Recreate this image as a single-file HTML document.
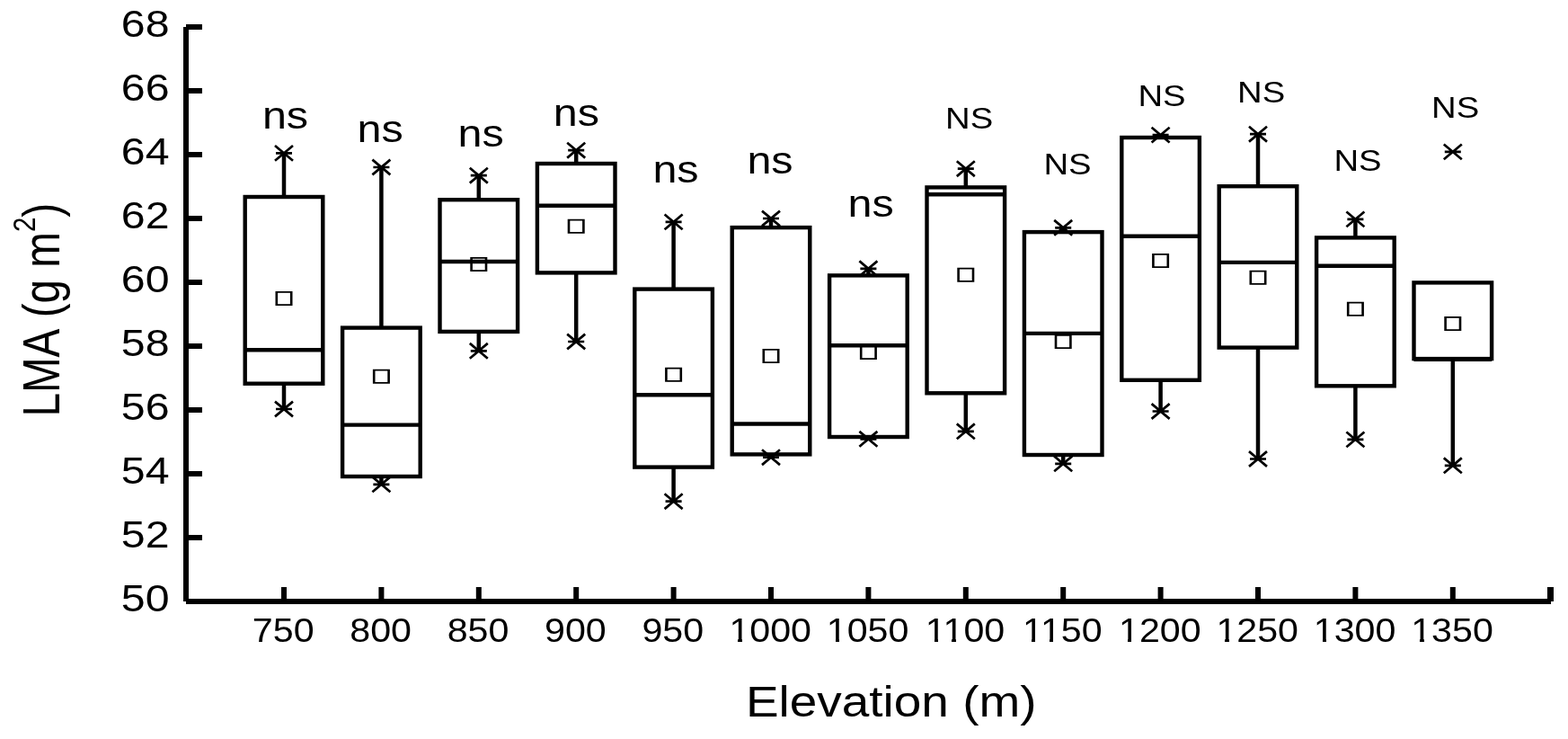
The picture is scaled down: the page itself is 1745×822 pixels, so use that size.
<!DOCTYPE html>
<html><head><meta charset="utf-8"><title>LMA vs Elevation</title>
<style>html,body{margin:0;padding:0;background:#fff;overflow:hidden}svg{display:block}</style>
</head><body>
<svg width="1745" height="822" viewBox="0 0 1745 822">
<rect x="0" y="0" width="1745" height="822" fill="#fff"/>
<g fill="#000">
<rect x="204" y="30" width="6" height="639"/>
<rect x="207" y="666" width="18" height="6"/>
<rect x="207" y="595" width="18" height="6"/>
<rect x="207" y="524" width="18" height="6"/>
<rect x="207" y="453" width="18" height="6"/>
<rect x="207" y="382" width="18" height="6"/>
<rect x="207" y="311" width="18" height="6"/>
<rect x="207" y="240" width="18" height="6"/>
<rect x="207" y="169" width="18" height="6"/>
<rect x="207" y="98" width="18" height="6"/>
<rect x="207" y="27" width="18" height="6"/>
<rect x="207" y="666" width="1519" height="6"/>
<rect x="1722" y="653" width="7" height="16"/>
<rect x="313.0" y="653" width="6" height="13"/>
<rect x="421.4" y="653" width="6" height="13"/>
<rect x="529.8" y="653" width="6" height="13"/>
<rect x="638.2" y="653" width="6" height="13"/>
<rect x="746.6" y="653" width="6" height="13"/>
<rect x="855.0" y="653" width="6" height="13"/>
<rect x="963.4" y="653" width="6" height="13"/>
<rect x="1071.8" y="653" width="6" height="13"/>
<rect x="1180.2" y="653" width="6" height="13"/>
<rect x="1288.6" y="653" width="6" height="13"/>
<rect x="1397.0" y="653" width="6" height="13"/>
<rect x="1505.4" y="653" width="6" height="13"/>
<rect x="1613.8" y="653" width="6" height="13"/>
</g>
<g fill="none" stroke="#000" stroke-width="4.4">
<rect x="272.7" y="219.0" width="86.6" height="207.7"/>
<line x1="272.7" y1="389.2" x2="359.3" y2="389.2"/>
<rect x="381.1" y="364.6" width="86.6" height="165.4"/>
<line x1="381.1" y1="472.6" x2="467.7" y2="472.6"/>
<rect x="489.5" y="222.2" width="86.6" height="146.7"/>
<line x1="489.5" y1="291.0" x2="576.1" y2="291.0"/>
<rect x="597.9" y="182.0" width="86.6" height="121.4"/>
<line x1="597.9" y1="228.8" x2="684.5" y2="228.8"/>
<rect x="706.3" y="321.6" width="86.6" height="198.0"/>
<line x1="706.3" y1="439.2" x2="792.9" y2="439.2"/>
<rect x="814.7" y="253.1" width="86.6" height="252.3"/>
<line x1="814.7" y1="471.5" x2="901.3" y2="471.5"/>
<rect x="923.1" y="306.4" width="86.6" height="179.6"/>
<line x1="923.1" y1="384.3" x2="1009.7" y2="384.3"/>
<rect x="1031.5" y="208.4" width="86.6" height="228.9"/>
<line x1="1031.5" y1="216.3" x2="1118.1" y2="216.3"/>
<rect x="1139.9" y="258.1" width="86.6" height="247.9"/>
<line x1="1139.9" y1="370.9" x2="1226.5" y2="370.9"/>
<rect x="1248.3" y="153.0" width="86.6" height="269.8"/>
<line x1="1248.3" y1="262.8" x2="1334.9" y2="262.8"/>
<rect x="1356.7" y="207.2" width="86.6" height="179.4"/>
<line x1="1356.7" y1="291.9" x2="1443.3" y2="291.9"/>
<rect x="1465.1" y="264.4" width="86.6" height="164.9"/>
<line x1="1465.1" y1="295.7" x2="1551.7" y2="295.7"/>
<rect x="1573.5" y="314.4" width="86.6" height="84.7"/>
<line x1="1573.5" y1="399.7" x2="1660.1" y2="399.7"/>
</g>
<g fill="none" stroke="#000" stroke-width="4.5">
<line x1="316.0" y1="170.4" x2="316.0" y2="219.0"/>
<line x1="316.0" y1="426.7" x2="316.0" y2="455.0"/>
<line x1="424.4" y1="186.0" x2="424.4" y2="364.6"/>
<line x1="424.4" y1="530.0" x2="424.4" y2="538.8"/>
<line x1="532.8" y1="195.2" x2="532.8" y2="222.2"/>
<line x1="532.8" y1="368.9" x2="532.8" y2="390.3"/>
<line x1="641.2" y1="167.2" x2="641.2" y2="182.0"/>
<line x1="641.2" y1="303.4" x2="641.2" y2="380.0"/>
<line x1="749.6" y1="246.9" x2="749.6" y2="321.6"/>
<line x1="749.6" y1="519.6" x2="749.6" y2="557.7"/>
<line x1="858.0" y1="243.0" x2="858.0" y2="253.1"/>
<line x1="858.0" y1="505.4" x2="858.0" y2="508.7"/>
<line x1="966.4" y1="298.8" x2="966.4" y2="306.4"/>
<line x1="966.4" y1="486.0" x2="966.4" y2="488.3"/>
<line x1="1074.8" y1="187.7" x2="1074.8" y2="208.4"/>
<line x1="1074.8" y1="437.3" x2="1074.8" y2="479.8"/>
<line x1="1183.2" y1="253.3" x2="1183.2" y2="258.1"/>
<line x1="1183.2" y1="506.0" x2="1183.2" y2="515.8"/>
<line x1="1291.6" y1="150.1" x2="1291.6" y2="153.0"/>
<line x1="1291.6" y1="422.8" x2="1291.6" y2="457.5"/>
<line x1="1400.0" y1="149.2" x2="1400.0" y2="207.2"/>
<line x1="1400.0" y1="386.6" x2="1400.0" y2="510.5"/>
<line x1="1508.4" y1="243.9" x2="1508.4" y2="264.4"/>
<line x1="1508.4" y1="429.3" x2="1508.4" y2="488.9"/>
<line x1="1616.8" y1="399.1" x2="1616.8" y2="517.8"/>
</g>
<g fill="none" stroke="#000" stroke-width="2.7">
<path d="M306.0 162.0L326.0 178.8M306.0 178.8L326.0 162.0M307.0 170.4L325.0 170.4"/>
<path d="M306.0 446.6L326.0 463.4M306.0 463.4L326.0 446.6M307.0 455.0L325.0 455.0"/>
<path d="M414.4 177.6L434.4 194.4M414.4 194.4L434.4 177.6M415.4 186.0L433.4 186.0"/>
<path d="M414.4 530.4L434.4 547.2M414.4 547.2L434.4 530.4M415.4 538.8L433.4 538.8"/>
<path d="M522.8 186.8L542.8 203.6M522.8 203.6L542.8 186.8M523.8 195.2L541.8 195.2"/>
<path d="M522.8 381.9L542.8 398.7M522.8 398.7L542.8 381.9M523.8 390.3L541.8 390.3"/>
<path d="M631.2 158.8L651.2 175.6M631.2 175.6L651.2 158.8M632.2 167.2L650.2 167.2"/>
<path d="M631.2 371.6L651.2 388.4M631.2 388.4L651.2 371.6M632.2 380.0L650.2 380.0"/>
<path d="M739.6 238.5L759.6 255.3M739.6 255.3L759.6 238.5M740.6 246.9L758.6 246.9"/>
<path d="M739.6 549.3L759.6 566.1M739.6 566.1L759.6 549.3M740.6 557.7L758.6 557.7"/>
<path d="M848.0 234.6L868.0 251.4M848.0 251.4L868.0 234.6M849.0 243.0L867.0 243.0"/>
<path d="M848.0 500.3L868.0 517.1M848.0 517.1L868.0 500.3M849.0 508.7L867.0 508.7"/>
<path d="M956.4 290.4L976.4 307.2M956.4 307.2L976.4 290.4M957.4 298.8L975.4 298.8"/>
<path d="M956.4 479.9L976.4 496.7M956.4 496.7L976.4 479.9M957.4 488.3L975.4 488.3"/>
<path d="M1064.8 179.3L1084.8 196.1M1064.8 196.1L1084.8 179.3M1065.8 187.7L1083.8 187.7"/>
<path d="M1064.8 471.4L1084.8 488.2M1064.8 488.2L1084.8 471.4M1065.8 479.8L1083.8 479.8"/>
<path d="M1173.2 244.9L1193.2 261.7M1173.2 261.7L1193.2 244.9M1174.2 253.3L1192.2 253.3"/>
<path d="M1173.2 507.4L1193.2 524.2M1173.2 524.2L1193.2 507.4M1174.2 515.8L1192.2 515.8"/>
<path d="M1281.6 141.7L1301.6 158.5M1281.6 158.5L1301.6 141.7M1282.6 150.1L1300.6 150.1"/>
<path d="M1281.6 449.1L1301.6 465.9M1281.6 465.9L1301.6 449.1M1282.6 457.5L1300.6 457.5"/>
<path d="M1390.0 140.8L1410.0 157.6M1390.0 157.6L1410.0 140.8M1391.0 149.2L1409.0 149.2"/>
<path d="M1390.0 502.1L1410.0 518.9M1390.0 518.9L1410.0 502.1M1391.0 510.5L1409.0 510.5"/>
<path d="M1498.4 235.5L1518.4 252.3M1498.4 252.3L1518.4 235.5M1499.4 243.9L1517.4 243.9"/>
<path d="M1498.4 480.5L1518.4 497.3M1498.4 497.3L1518.4 480.5M1499.4 488.9L1517.4 488.9"/>
<path d="M1606.8 509.4L1626.8 526.2M1606.8 526.2L1626.8 509.4M1607.8 517.8L1625.8 517.8"/>
<path d="M1606.8 160.5L1626.8 177.3M1606.8 177.3L1626.8 160.5M1607.8 168.9L1625.8 168.9"/>
</g>
<path fill-rule="evenodd" d="M306.5 324.0h19v16h-19z M309.1 325.8v12.4h13.8v-12.4z"/>
<path fill-rule="evenodd" d="M414.9 410.8h19v16h-19z M417.5 412.6v12.4h13.8v-12.4z"/>
<path fill-rule="evenodd" d="M523.3 286.0h19v16h-19z M525.9 287.8v12.4h13.8v-12.4z"/>
<path fill-rule="evenodd" d="M631.7 243.7h19v16h-19z M634.3 245.5v12.4h13.8v-12.4z"/>
<path fill-rule="evenodd" d="M740.1 408.8h19v16h-19z M742.7 410.6v12.4h13.8v-12.4z"/>
<path fill-rule="evenodd" d="M848.5 388.0h19v16h-19z M851.1 389.8v12.4h13.8v-12.4z"/>
<path fill-rule="evenodd" d="M956.9 384.0h19v16h-19z M959.5 385.8v12.4h13.8v-12.4z"/>
<path fill-rule="evenodd" d="M1065.3 297.7h19v16h-19z M1067.9 299.5v12.4h13.8v-12.4z"/>
<path fill-rule="evenodd" d="M1173.7 372.0h19v16h-19z M1176.3 373.8v12.4h13.8v-12.4z"/>
<path fill-rule="evenodd" d="M1282.1 282.0h19v16h-19z M1284.7 283.8v12.4h13.8v-12.4z"/>
<path fill-rule="evenodd" d="M1390.5 300.8h19v16h-19z M1393.1 302.6v12.4h13.8v-12.4z"/>
<path fill-rule="evenodd" d="M1498.9 335.8h19v16h-19z M1501.5 337.6v12.4h13.8v-12.4z"/>
<path fill-rule="evenodd" d="M1607.3 352.0h19v16h-19z M1609.9 353.8v12.4h13.8v-12.4z"/>
<g font-family='"Liberation Sans", Arial, Helvetica, sans-serif' fill="#000">
<text transform="translate(188.50 680.00) scale(1.133 1)" font-size="42.6" text-anchor="end">50</text>
<text transform="translate(188.50 609.00) scale(1.133 1)" font-size="42.6" text-anchor="end">52</text>
<text transform="translate(188.50 538.00) scale(1.133 1)" font-size="42.6" text-anchor="end">54</text>
<text transform="translate(188.50 467.00) scale(1.133 1)" font-size="42.6" text-anchor="end">56</text>
<text transform="translate(188.50 396.00) scale(1.133 1)" font-size="42.6" text-anchor="end">58</text>
<text transform="translate(188.50 325.00) scale(1.133 1)" font-size="42.6" text-anchor="end">60</text>
<text transform="translate(188.50 254.00) scale(1.133 1)" font-size="42.6" text-anchor="end">62</text>
<text transform="translate(188.50 183.00) scale(1.133 1)" font-size="42.6" text-anchor="end">64</text>
<text transform="translate(188.50 112.00) scale(1.133 1)" font-size="42.6" text-anchor="end">66</text>
<text transform="translate(188.50 41.00) scale(1.133 1)" font-size="42.6" text-anchor="end">68</text>
<text transform="translate(315.20 714.00) scale(1.135 1)" font-size="36.3" text-anchor="middle">750</text>
<text transform="translate(423.60 714.00) scale(1.135 1)" font-size="36.3" text-anchor="middle">800</text>
<text transform="translate(532.00 714.00) scale(1.135 1)" font-size="36.3" text-anchor="middle">850</text>
<text transform="translate(640.40 714.00) scale(1.135 1)" font-size="36.3" text-anchor="middle">900</text>
<text transform="translate(748.80 714.00) scale(1.135 1)" font-size="36.3" text-anchor="middle">950</text>
<text transform="translate(857.20 714.00) scale(1.135 1)" font-size="36.3" text-anchor="middle">1000</text>
<text transform="translate(965.60 714.00) scale(1.135 1)" font-size="36.3" text-anchor="middle">1050</text>
<text transform="translate(1074.00 714.00) scale(1.135 1)" font-size="36.3" text-anchor="middle">1100</text>
<text transform="translate(1182.40 714.00) scale(1.135 1)" font-size="36.3" text-anchor="middle">1150</text>
<text transform="translate(1290.80 714.00) scale(1.135 1)" font-size="36.3" text-anchor="middle">1200</text>
<text transform="translate(1399.20 714.00) scale(1.135 1)" font-size="36.3" text-anchor="middle">1250</text>
<text transform="translate(1507.60 714.00) scale(1.135 1)" font-size="36.3" text-anchor="middle">1300</text>
<text transform="translate(1616.00 714.00) scale(1.135 1)" font-size="36.3" text-anchor="middle">1350</text>
<text transform="translate(291.90 142.90) scale(1.155 1)" font-size="42.0" text-anchor="start">ns</text>
<text transform="translate(397.50 157.50) scale(1.155 1)" font-size="42.0" text-anchor="start">ns</text>
<text transform="translate(509.60 163.30) scale(1.155 1)" font-size="42.0" text-anchor="start">ns</text>
<text transform="translate(615.80 140.20) scale(1.155 1)" font-size="42.0" text-anchor="start">ns</text>
<text transform="translate(726.40 203.10) scale(1.155 1)" font-size="42.0" text-anchor="start">ns</text>
<text transform="translate(831.40 193.10) scale(1.155 1)" font-size="42.0" text-anchor="start">ns</text>
<text transform="translate(943.50 241.30) scale(1.155 1)" font-size="42.0" text-anchor="start">ns</text>
<text transform="translate(1052.00 142.90) scale(1.153 1)" font-size="33.2" text-anchor="start">NS</text>
<text transform="translate(1161.40 193.80) scale(1.153 1)" font-size="33.2" text-anchor="start">NS</text>
<text transform="translate(1266.40 118.00) scale(1.153 1)" font-size="33.2" text-anchor="start">NS</text>
<text transform="translate(1377.00 114.10) scale(1.153 1)" font-size="33.2" text-anchor="start">NS</text>
<text transform="translate(1484.40 190.30) scale(1.153 1)" font-size="33.2" text-anchor="start">NS</text>
<text transform="translate(1593.00 130.90) scale(1.153 1)" font-size="33.2" text-anchor="start">NS</text>
<text transform="translate(829.90 797.20) scale(1.145 1)" font-size="48.0" text-anchor="start">Elevation (m)</text>
<text transform="translate(66.00 463.50) rotate(-90) scale(1 1.22)" font-size="47.6">LMA <tspan dx="1.8">(g m</tspan><tspan font-size="29.5" dy="-22.5">2</tspan><tspan dy="22.5">)</tspan></text>
</g>
<g fill="#fff"><rect x="813" y="711" width="8" height="3"/><rect x="826" y="711" width="8" height="3"/><rect x="922" y="711" width="8" height="3"/><rect x="934" y="711" width="8" height="3"/><rect x="1032" y="711" width="8" height="3"/><rect x="1044" y="711" width="8" height="3"/><rect x="1051" y="711" width="8" height="3"/><rect x="1064" y="711" width="8" height="3"/><rect x="1140" y="711" width="8" height="3"/><rect x="1152" y="711" width="8" height="3"/><rect x="1160" y="711" width="8" height="3"/><rect x="1172" y="711" width="8" height="3"/><rect x="1247" y="711" width="8" height="3"/><rect x="1259" y="711" width="8" height="3"/><rect x="1355" y="711" width="8" height="3"/><rect x="1368" y="711" width="8" height="3"/><rect x="1464" y="711" width="8" height="3"/><rect x="1476" y="711" width="8" height="3"/><rect x="1572" y="711" width="8" height="3"/><rect x="1585" y="711" width="7" height="3"/></g>
</svg>
</body></html>
